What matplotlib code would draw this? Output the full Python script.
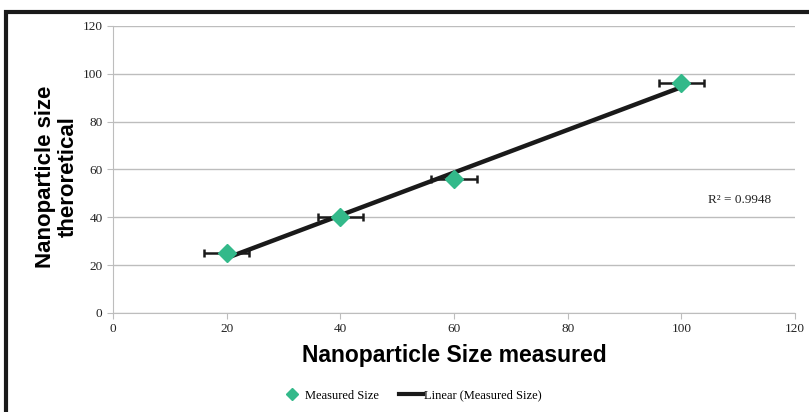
import numpy as np
import matplotlib
matplotlib.use("Agg")
import matplotlib.pyplot as plt
from matplotlib.patches import Rectangle
from matplotlib.lines import Line2D

# measured vs theoretical nanoparticle size
size_measured = [20, 40, 60, 100]
size_theoretical = [25, 40, 56, 96]
x_err = [4, 4, 4, 4]
r_squared = "0.9948"

fig = plt.figure(figsize=(8.09, 4.12), dpi=100)
ax = fig.add_axes([0.1397, 0.2403, 0.8430, 0.6966])

# outer chart frame (left and top edges visible)
fig.patches.append(Rectangle((6 / 809, -0.1), 1.2, (412 - 12) / 412 + 0.1,
                             transform=fig.transFigure, fill=False,
                             edgecolor="#1a1a1a", linewidth=3, zorder=0))

ax.set_xlim(0, 120)
ax.set_ylim(0, 120)
ax.set_xticks(range(0, 121, 20))
ax.set_yticks(range(0, 121, 20))
ax.grid(axis="y", color="#bdbdbd", linewidth=1)
ax.set_axisbelow(True)
for s in ["top", "right"]:
    ax.spines[s].set_visible(False)
for s in ["left", "bottom"]:
    ax.spines[s].set_color("#bdbdbd")
ax.tick_params(colors="#bdbdbd", length=4, labelcolor="#222222", labelsize=9.5)
for lab in ax.get_xticklabels() + ax.get_yticklabels():
    lab.set_family("Liberation Serif")

# linear trendline
slope, intercept = np.polyfit(size_measured, size_theoretical, 1)
xs = np.array([min(size_measured), max(size_measured)])
ax.plot(xs, slope * xs + intercept, color="#1a1a1a", linewidth=3.2, zorder=3)

ax.errorbar(size_measured, size_theoretical, xerr=x_err, fmt="none",
            ecolor="#1a1a1a", elinewidth=1.8, capsize=3, capthick=1.8, zorder=2)
ax.plot(size_measured, size_theoretical, linestyle="none", marker="D",
        markersize=9.5, color="#33b98a", zorder=4)

ax.text(104.7, 47.2, "R² = " + r_squared, family="Liberation Serif",
        fontsize=9.5, color="#222222", va="center", ha="left")

ax.set_xlabel("Nanoparticle Size measured", family="Liberation Sans",
              fontweight="bold", fontsize=16.5, labelpad=6)
ax.set_ylabel("Nanoparticle size\ntheroretical", family="Liberation Sans",
              fontweight="bold", fontsize=16, linespacing=1.15)
ax.yaxis.set_label_coords(-0.05, 0.475)

handles = [Line2D([], [], linestyle="none", marker="D", markersize=6, color="#33b98a"),
           Line2D([], [], color="#1a1a1a", linewidth=3)]
fig.legend(handles, ["Measured Size", "Linear (Measured Size)"],
           loc="center", bbox_to_anchor=(0.508, 0.04), ncol=2, frameon=False,
           prop={"family": "Liberation Serif", "size": 9},
           handlelength=1.9, handletextpad=0.1, columnspacing=1.6)

plt.savefig("out.png", dpi=100)
plt.close(fig)
